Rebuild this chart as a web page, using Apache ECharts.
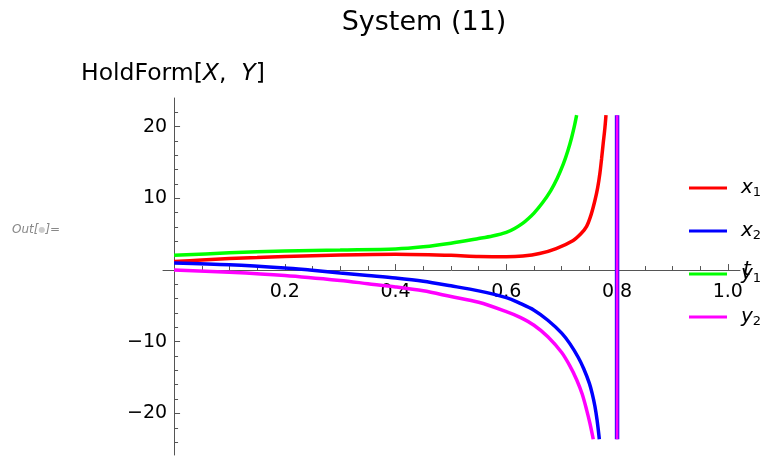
<!DOCTYPE html>
<html>
<head>
<meta charset="utf-8">
<script src="https://cdn.jsdelivr.net/npm/echarts@6/dist/echarts.min.js"></script>
<style>html,body{margin:0;padding:0;background:#fff}#c{width:767px;height:456px}</style>
</head>
<body>
<div id="c"></div>
<script>
// Data
const tX1 = [0, 0.05, 0.1, 0.15, 0.2, 0.3, 0.4, 0.5, 0.55, 0.6, 0.63, 0.66, 0.69, 0.72, 0.735, 0.745, 0.753, 0.76, 0.765, 0.769, 0.772, 0.775, 0.778, 0.78];
const vX1 = [1.2, 1.4, 1.6, 1.75, 1.9, 2.1, 2.2, 2.05, 1.9, 1.85, 1.95, 2.3, 3.0, 4.1, 5.1, 6.1, 7.7, 9.7, 11.5, 13.5, 15.5, 17.7, 19.8, 21.6];
const tX2 = [0, 0.1, 0.2, 0.245, 0.3, 0.35, 0.4, 0.45, 0.5, 0.55, 0.6, 0.625, 0.65, 0.675, 0.7, 0.715, 0.73, 0.74, 0.75, 0.755, 0.76, 0.764, 0.768];
const vX2 = [1.0, 0.75, 0.3, 0, -0.4, -0.75, -1.1, -1.55, -2.2, -2.9, -3.85, -4.65, -5.6, -7.0, -8.8, -10.3, -12.2, -13.8, -15.8, -17.2, -19.0, -21.0, -23.6];
const tY1 = [0, 0.1, 0.2, 0.3, 0.4, 0.45, 0.5, 0.55, 0.575, 0.6, 0.615, 0.63, 0.64, 0.65, 0.665, 0.68, 0.692, 0.703, 0.711, 0.718, 0.723, 0.727];
const vY1 = [2.05, 2.4, 2.65, 2.8, 2.95, 3.25, 3.75, 4.4, 4.75, 5.25, 5.8, 6.55, 7.2, 7.95, 9.35, 11.05, 12.8, 14.8, 16.6, 18.5, 20.1, 21.6];
const tY2 = [0, 0.1, 0.2, 0.3, 0.35, 0.4, 0.45, 0.5, 0.55, 0.6, 0.625, 0.65, 0.675, 0.7, 0.715, 0.727, 0.737, 0.745, 0.751, 0.757];
const vY2 = [0, -0.3, -0.75, -1.45, -1.9, -2.35, -2.9, -3.7, -4.5, -5.8, -6.6, -7.7, -9.3, -11.5, -13.4, -15.3, -17.3, -19.5, -21.4, -23.6];
const tJump = [0.8, 0.8];
const vJump = [-23.6, 21.6];
const seriesNames = ['x1', 'x2', 'y1', 'y2'];
const xTickLabels = [0.2, 0.4, 0.6, 0.8, 1.0];
const xMinorTicks = [0.05, 0.1, 0.15, 0.25, 0.3, 0.35, 0.45, 0.5, 0.55, 0.65, 0.7, 0.75, 0.85, 0.9, 0.95];
const yTickLabels = [-20, -10, 10, 20];
const yMinorTicks = [-24, -22, -18, -16, -14, -12, -8, -6, -4, -2, 2, 4, 6, 8, 12, 14, 16, 18, 22];

const pairs = (t, v) => t.map((x, i) => [x, v[i]]);
const FONT = 'DejaVu Sans';
const axisColor = '#555';

// plot geometry
const G = {left: 163, right: 27, top: 98, bottom: 1};
const X_MIN = -0.02, X_MAX = 1.022, Y_MIN = -25.8, Y_MAX = 24;
const gridW = 767 - G.left - G.right, gridH = 456 - G.top - G.bottom;
const xAxisOffset = -(gridH * (0 - Y_MIN) / (Y_MAX - Y_MIN));   // move bottom axis up to y = 0
const yAxisOffset = -(gridW * (0 - X_MIN) / (X_MAX - X_MIN));   // move left axis right to t = 0

const chart = echarts.init(document.getElementById('c'), null, {renderer: 'canvas'});
const mkLine = (name, t, v, color, width, z) => ({
  name, type: 'line', data: pairs(t, v), showSymbol: false, symbol: 'none',
  smooth: 0.3, xAxisIndex: 0, yAxisIndex: 0, z: z || 2,
  lineStyle: {color, width}, itemStyle: {color}, animation: false
});
chart.setOption({
  animation: false,
  textStyle: {fontFamily: FONT},
  title: [
    {text: 'System (11)', left: 419, top: 4, textAlign: 'center',
     textStyle: {fontFamily: FONT, fontSize: 27, fontWeight: 'normal', color: '#000'}},
    {text: '{a|HoldForm[}{i|X}{a|,  }{i|Y}{a|]}', left: 76, top: 57,
     textStyle: {fontWeight: 'normal', rich: {
       a: {fontFamily: FONT, fontSize: 23.5, fontWeight: 'normal', color: '#000'},
       i: {fontFamily: FONT, fontSize: 23.5, fontWeight: 'normal', fontStyle: 'italic', color: '#000'}
     }}}
  ],
  graphic: [{
    type: 'text', left: 12, top: 224,
    style: {text: '{o|Out[}{d|●}{o|]=}', rich: {
      o: {fontFamily: FONT, fontSize: 12, fontStyle: 'italic', fill: '#888'},
      d: {fontFamily: FONT, fontSize: 8, fill: '#ccc'}
    }}
  }],
  legend: {
    data: seriesNames, orient: 'vertical', left: 689, top: 175, padding: 0,
    icon: 'rect', itemWidth: 38, itemHeight: 3, itemGap: 19,
    formatter: n => `{i|${n[0]}}{s|${n[1]}}`,
    textStyle: {padding: [0, 0, 0, 9], rich: {
      i: {fontFamily: FONT, fontSize: 20, fontStyle: 'italic', color: '#000', lineHeight: 22},
      s: {fontFamily: FONT, fontSize: 13, color: '#000', lineHeight: 22, verticalAlign: 'bottom', padding: [11, 0, 0, 0]}
    }}
  },
  grid: {left: G.left, right: G.right, top: G.top, bottom: G.bottom, containLabel: false, outerBoundsMode: 'none'},
  xAxis: [
    {type: 'value', min: X_MIN, max: X_MAX, position: 'bottom', offset: xAxisOffset,
     axisLine: {onZero: false, lineStyle: {color: axisColor, width: 1}},
     axisTick: {inside: true, length: 6, customValues: xTickLabels, lineStyle: {color: axisColor}},
     axisLabel: {customValues: xTickLabels, margin: 13, fontSize: 19, color: '#000', fontFamily: FONT,
                 formatter: v => v.toFixed(1)},
     splitLine: {show: false},
     name: 't', nameLocation: 'end', nameGap: 3,
     nameTextStyle: {fontFamily: FONT, fontSize: 20, fontStyle: 'italic', color: '#000'}},
    {type: 'value', min: X_MIN, max: X_MAX, position: 'bottom', offset: xAxisOffset,
     axisLine: {onZero: false, show: false},
     axisTick: {inside: true, length: 4, customValues: xMinorTicks, lineStyle: {color: axisColor}},
     axisLabel: {show: false}, splitLine: {show: false}}
  ],
  yAxis: [
    {type: 'value', min: Y_MIN, max: Y_MAX, position: 'left', offset: yAxisOffset,
     axisLine: {show: true, onZero: false, lineStyle: {color: axisColor, width: 1}},
     axisTick: {show: true, inside: true, length: 6, customValues: yTickLabels, lineStyle: {color: axisColor}},
     axisLabel: {customValues: yTickLabels, margin: 7, fontSize: 19, color: '#000', fontFamily: FONT,
                 formatter: v => v < 0 ? '\u2212' + (-v) : String(v)},
     splitLine: {show: false}},
    {type: 'value', min: Y_MIN, max: Y_MAX, position: 'left', offset: yAxisOffset,
     axisLine: {show: false, onZero: false},
     axisTick: {show: true, inside: true, length: 4, customValues: yMinorTicks, lineStyle: {color: axisColor}},
     axisLabel: {show: false}, splitLine: {show: false}}
  ],
  series: [
    mkLine('x1', tX1, vX1, '#ff0000', 3.5),
    mkLine('x2', tX2, vX2, '#0000ff', 3.5),
    mkLine('y1', tY1, vY1, '#00ff00', 3.5),
    mkLine('y2', tY2, vY2, '#ff00ff', 3.5),
    Object.assign(mkLine('jumpA', tJump, vJump, '#3a00ff', 4.5, 3), {smooth: false}),
    Object.assign(mkLine('jumpB', tJump, vJump, '#ff00ff', 2.5, 4), {smooth: false})
  ]
});
</script>
</body>
</html>
